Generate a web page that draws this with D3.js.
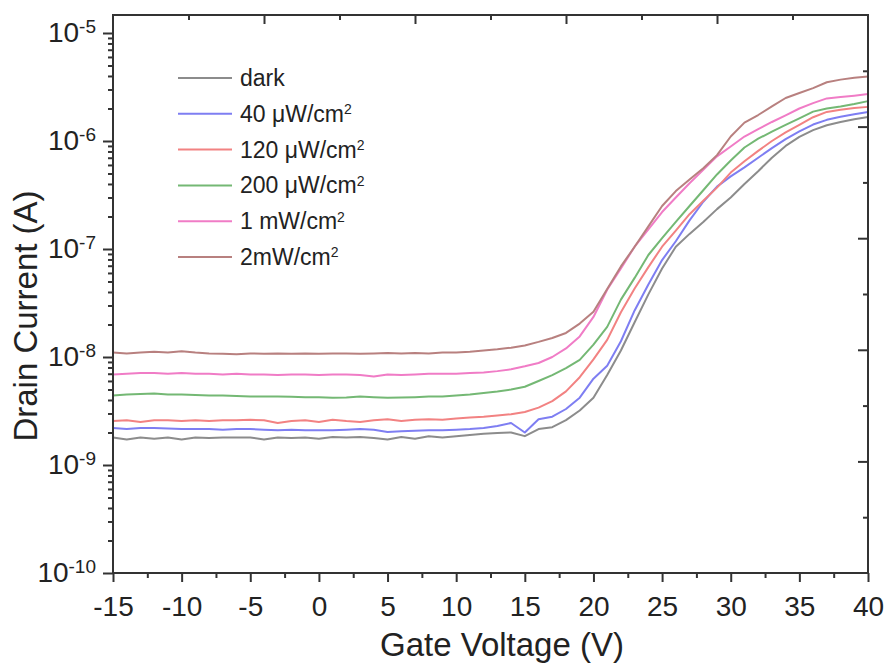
<!DOCTYPE html>
<html><head><meta charset="utf-8">
<script src="https://cdn.jsdelivr.net/npm/d3@7/dist/d3.min.js"></script>
<style>
body{margin:0;background:#fff}
svg text{font-family:"Liberation Sans",Arial,Helvetica,sans-serif;fill:#222}
</style>
</head><body>
<svg id="chart" width="888" height="664"></svg>
<script>
// Gate voltage (V)
const voltage = [-15,-14,-13,-12,-11,-10,-9,-8,-7,-6,-5,-4,-3,-2,-1,0,1,2,3,4,5,6,7,8,9,10,11,12,13,14,15,16,17,18,19,20,21,22,23,24,25,26,27,28,29,30,31,32,33,34,35,36,37,38,39,40];
// Drain current in nA for each illumination
const dark = [1.80,1.72,1.80,1.75,1.80,1.72,1.80,1.78,1.80,1.80,1.80,1.72,1.80,1.78,1.80,1.75,1.82,1.80,1.82,1.78,1.72,1.82,1.75,1.85,1.80,1.85,1.90,1.95,1.98,2.00,1.85,2.15,2.24,2.60,3.2,4.2,6.8,11.5,21,38,66,105,138,178,234,300,400,525,700,900,1090,1260,1400,1500,1590,1670];
const p40u = [2.20,2.15,2.20,2.20,2.18,2.15,2.15,2.15,2.12,2.15,2.15,2.12,2.10,2.12,2.10,2.10,2.10,2.12,2.15,2.12,2.02,2.05,2.08,2.10,2.10,2.12,2.15,2.20,2.30,2.45,2.00,2.65,2.80,3.30,4.20,6.3,8.3,14,27,47,79,118,184,274,378,470,570,700,860,1040,1230,1420,1570,1680,1770,1860];
const p120u = [2.55,2.60,2.50,2.60,2.60,2.55,2.60,2.55,2.60,2.60,2.62,2.60,2.45,2.55,2.60,2.50,2.62,2.55,2.50,2.60,2.65,2.55,2.62,2.65,2.62,2.70,2.75,2.80,2.88,2.95,3.10,3.40,3.90,4.80,6.5,9.5,14.4,26,43,68,105,148,210,280,370,510,650,810,1000,1200,1410,1660,1860,1950,2020,2070];
const p200u = [4.40,4.50,4.55,4.60,4.50,4.50,4.45,4.40,4.40,4.35,4.30,4.30,4.30,4.28,4.25,4.25,4.20,4.22,4.30,4.25,4.20,4.22,4.25,4.30,4.30,4.40,4.50,4.65,4.80,5.00,5.30,6.0,6.8,7.9,9.4,13,19,34,54,88,126,178,250,350,490,660,870,1050,1220,1410,1620,1870,2000,2090,2200,2340];
const p1m = [6.9,7.0,7.1,7.1,7.0,7.1,7.0,7.0,6.9,7.0,6.9,6.9,6.8,6.9,6.9,6.8,6.9,6.9,6.8,6.6,6.9,6.8,6.9,7.0,7.0,7.0,7.1,7.2,7.4,7.7,8.2,8.8,10.0,12.0,15.5,23.5,42,66,105,152,220,300,406,540,720,890,1100,1290,1500,1730,2000,2240,2480,2550,2630,2720];
const p2m = [11.0,10.8,11.0,11.2,11.0,11.3,11.0,10.8,10.7,10.6,10.8,10.7,10.8,10.7,10.8,10.7,10.8,10.8,10.7,10.8,10.9,10.8,10.9,10.8,11.0,11.0,11.2,11.5,11.8,12.2,12.8,13.8,15.0,16.7,20.4,26.3,42.7,69,105,162,250,344,440,560,740,1100,1480,1740,2090,2500,2780,3090,3500,3700,3850,3950];

const seriesData = [dark, p40u, p120u, p200u, p1m, p2m];
const seriesNames = ["dark", "40 μW/cm", "120 μW/cm", "200 μW/cm", "1 mW/cm", "2mW/cm"];
const seriesSup = ["", "2", "2", "2", "2", "2"];
const seriesColors = ["#8c8c8c", "#7e7ef2", "#f28282", "#74b874", "#f07cc6", "#b8807f"];

const xTicks = [-15,-10,-5,0,5,10,15,20,25,30,35,40];
const xTickLabels = ["-15","-10","-5","0","5","10","15","20","25","30","35","40"];
const xMinor = [-12.5,-7.5,-2.5,2.5,7.5,12.5,17.5,22.5,27.5,32.5,37.5];
const yExps = [-10,-9,-8,-7,-6,-5];
const yExpLabels = ["-10","-9","-8","-7","-6","-5"];
const xTitle = "Gate Voltage (V)";
const yTitle = "Drain Current (A)";

const L = 113, R = 868, T = 15, B = 573;
const svg = d3.select("#chart");

const x = d3.scaleLinear().domain([-15, 40]).range([L, R]);
const y = d3.scaleLog().domain([1e-10, Math.pow(10, -5 + 18/108)]).range([B, T]);
const topS = d3.scaleLinear().domain([0, 10]).range([L, R]);
const rightS = d3.scaleLinear().domain([0, 10]).range([B, T]);

const axisColor = "#333";
function styleAxis(g){
  g.select(".domain").remove();
  g.selectAll(".tick line").attr("stroke", axisColor).attr("stroke-width", 2);
}

// curves
const line = d3.line().x((d,i) => x(voltage[i])).y(d => y(d * 1e-9));
const plot = svg.append("g");
seriesData.forEach((s, k) => {
  plot.append("path").datum(s).attr("d", line)
    .attr("fill", "none").attr("stroke", seriesColors[k]).attr("stroke-width", 2)
    .attr("stroke-linejoin", "round");
});

// bottom axis
const gx = svg.append("g").attr("transform", `translate(0,${B})`)
  .call(d3.axisBottom(x).tickValues(xTicks).tickSize(9).tickPadding(14)
    .tickFormat((d, i) => xTickLabels[i]));
styleAxis(gx);
gx.selectAll("text").style("font-size", "28px").attr("fill", "#222");
const gxm = svg.append("g").attr("transform", `translate(0,${B})`)
  .call(d3.axisBottom(x).tickValues(xMinor).tickSize(5).tickFormat(""));
styleAxis(gxm);

// left axis
const gy = svg.append("g").attr("transform", `translate(${L},0)`)
  .call(d3.axisLeft(y).tickValues(yExps.map(e => Math.pow(10, e))).tickSize(10).tickPadding(7).tickFormat(""));
styleAxis(gy);
gy.selectAll(".tick text").each(function(d, i){
  const t = d3.select(this).style("font-size", "28px").attr("fill", "#222");
  t.append("tspan").text("10");
  t.append("tspan").attr("dy", "-0.5em").style("font-size", "19px").text(yExpLabels[i]);
});
const yMinor = [];
yExps.slice(0, -1).forEach(e => { for (let m = 2; m <= 9; m++) yMinor.push(m * Math.pow(10, e)); });
const gym = svg.append("g").attr("transform", `translate(${L},0)`)
  .call(d3.axisLeft(y).tickValues(yMinor).tickSize(5).tickFormat(""));
styleAxis(gym);

// top axis (inward ticks)
const gt = svg.append("g").attr("transform", `translate(0,${T})`)
  .call(d3.axisTop(topS).tickValues([2,4,6,8]).tickSize(-9).tickFormat(""));
styleAxis(gt);
const gtm = svg.append("g").attr("transform", `translate(0,${T})`)
  .call(d3.axisTop(topS).tickValues([1,3,5,7,9]).tickSize(-5).tickFormat(""));
styleAxis(gtm);

// right axis (inward ticks)
const gr = svg.append("g").attr("transform", `translate(${R},0)`)
  .call(d3.axisRight(rightS).tickValues([2,4,6,8]).tickSize(-10).tickFormat(""));
styleAxis(gr);
const grm = svg.append("g").attr("transform", `translate(${R},0)`)
  .call(d3.axisRight(rightS).tickValues([1,3,5,7,9]).tickSize(-5).tickFormat(""));
styleAxis(grm);

// frame
svg.append("rect").attr("x", L).attr("y", T).attr("width", R - L).attr("height", B - T)
  .attr("fill", "none").attr("stroke", axisColor).attr("stroke-width", 2);

// titles
svg.append("text").attr("x", 502).attr("y", 656).attr("text-anchor", "middle")
  .style("font-size", "33px").text(xTitle);
svg.append("text").attr("transform", "translate(37,316) rotate(-90)").attr("text-anchor", "middle")
  .style("font-size", "33px").text(yTitle);

// legend
const lg = svg.append("g");
seriesNames.forEach((n, k) => {
  const cy = 78 + k * 35.8;
  lg.append("line").attr("x1", 178).attr("x2", 232).attr("y1", cy).attr("y2", cy)
    .attr("stroke", seriesColors[k]).attr("stroke-width", 2);
  const t = lg.append("text").attr("x", 240).attr("y", cy).attr("dy", "0.35em").style("font-size", "23px");
  t.append("tspan").text(n);
  if (seriesSup[k]) t.append("tspan").attr("dy", "-0.55em").style("font-size", "14px").text(seriesSup[k]);
});
</script>
</body></html>
